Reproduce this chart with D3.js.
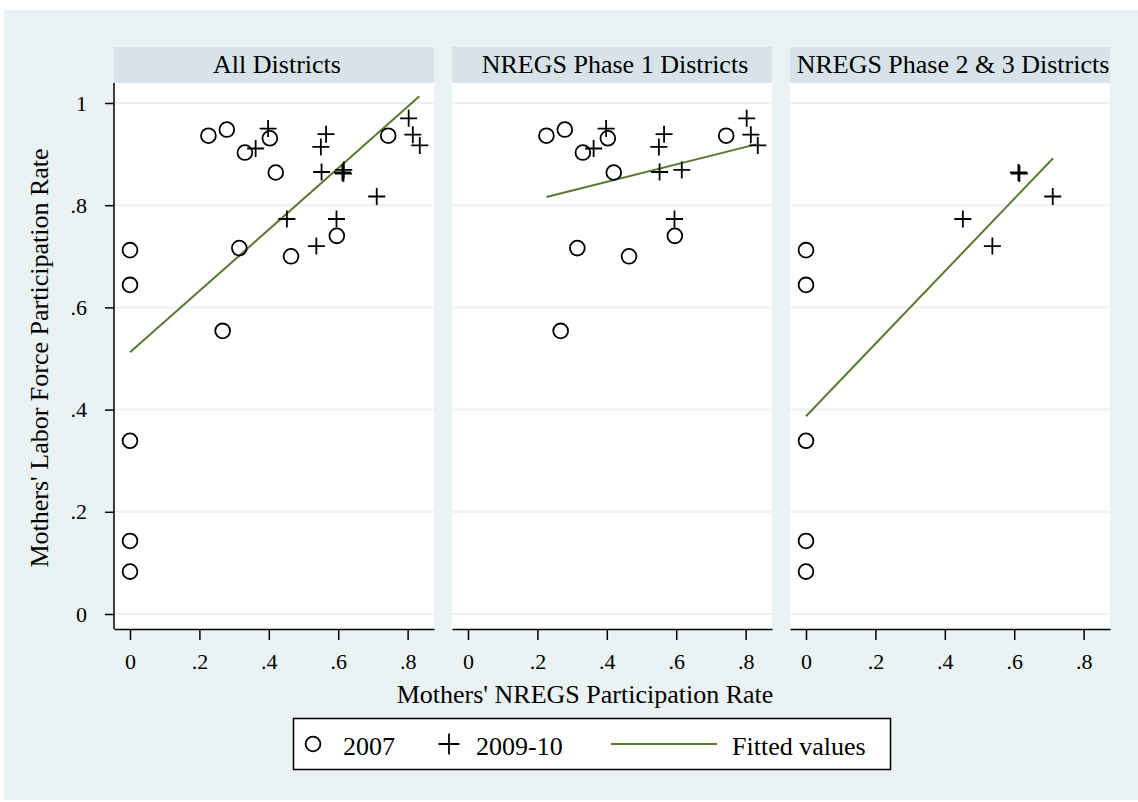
<!DOCTYPE html>
<html>
<head>
<meta charset="utf-8">
<script src="https://cdn.jsdelivr.net/npm/d3@7"></script>
<style>
  body { margin: 0; background: #fff; }
  svg text { font-family: "Liberation Serif", "Times New Roman", serif; fill: #000; }
</style>
</head>
<body>
<div id="chart"></div>
<script>
// panel titles
const panelTitles = ["All Districts", "NREGS Phase 1 Districts", "NREGS Phase 2 & 3 Districts"];

// Phase 1 districts
const phase1_2007_x = [0.226, 0.279, 0.331, 0.403, 0.420, 0.744, 0.315, 0.464, 0.596, 0.267];
const phase1_2007_y = [0.936, 0.948, 0.903, 0.931, 0.864, 0.936, 0.716, 0.700, 0.740, 0.554];
const phase1_2009_x = [0.398, 0.362, 0.565, 0.550, 0.552, 0.616, 0.803, 0.815, 0.835, 0.595];
const phase1_2009_y = [0.950, 0.911, 0.939, 0.914, 0.865, 0.869, 0.970, 0.938, 0.917, 0.773];

// Phase 2 & 3 districts
const phase23_2007_x = [0, 0, 0, 0, 0];
const phase23_2007_y = [0.712, 0.644, 0.339, 0.143, 0.083];
const phase23_2009_x = [0.612, 0.615, 0.711, 0.452, 0.537];
const phase23_2009_y = [0.864, 0.862, 0.817, 0.773, 0.720];

// fitted line end points, one per panel
const fit_x = [[0, 0.834], [0.226, 0.830], [0, 0.712]];
const fit_y = [[0.512, 1.013], [0.816, 0.919], [0.387, 0.892]];

// ticks
const xTicks = [0, 0.2, 0.4, 0.6, 0.8];
const xTickLabels = ["0", ".2", ".4", ".6", ".8"];
const yTicks = [0, 0.2, 0.4, 0.6, 0.8, 1];
const yTickLabels = ["0", ".2", ".4", ".6", ".8", "1"];

const legendLabels = ["2007", "2009-10", "Fitted values"];

const W = 1138, H = 802;
const fitColor = "#587a30";
const gridColor = "#eaf2f3";

function pts(xs, ys) { return xs.map((x, i) => ({ x: x, y: ys[i] })); }

const p1a = pts(phase1_2007_x, phase1_2007_y), p1b = pts(phase1_2009_x, phase1_2009_y);
const p2a = pts(phase23_2007_x, phase23_2007_y), p2b = pts(phase23_2009_x, phase23_2009_y);

const panels = [
    { circles: p1a.concat(p2a), pluses: p1b.concat(p2b) },
    { circles: p1a, pluses: p1b },
    { circles: p2a, pluses: p2b }
];

const svg = d3.select("#chart").append("svg")
    .attr("width", W).attr("height", H);

// graph region background
svg.append("rect")
    .attr("x", 4).attr("y", 10)
    .attr("width", W - 4).attr("height", H - 12)
    .attr("fill", "#eaf2f3");

const panelW = 320, panelLeft = [114, 452, 790];
const plotTop = 83, plotBottom = 629, stripTop = 47;

const y = d3.scaleLinear().domain([0, 1]).range([614, 103]);

const plusPath = s => `M${-s},0H${s}M0,${-s}V${s}`;

panels.forEach((p, i) => {
    const x0 = panelLeft[i];
    const x = d3.scaleLinear().domain([-0.0461, 0.876]).range([x0, x0 + panelW]);
    const g = svg.append("g");

    // strip
    g.append("rect")
        .attr("x", x0).attr("y", stripTop)
        .attr("width", panelW).attr("height", plotTop - stripTop)
        .attr("fill", "#d7e3e8");
    g.append("text")
        .attr("x", x0 + panelW / 2 + 3).attr("y", 73)
        .attr("text-anchor", "middle")
        .style("font-size", "26px")
        .text(panelTitles[i]);

    // plot area
    g.append("rect")
        .attr("x", x0).attr("y", plotTop)
        .attr("width", panelW).attr("height", plotBottom - plotTop)
        .attr("fill", "#fff");

    // grid lines
    g.selectAll(".grid").data(yTicks).enter().append("line")
        .attr("x1", x0).attr("x2", x0 + panelW)
        .attr("y1", d => y(d)).attr("y2", d => y(d))
        .attr("stroke", gridColor).attr("stroke-width", 2);

    // fitted line
    g.append("path")
        .datum(fit_x[i].map((v, j) => ({ x: v, y: fit_y[i][j] })))
        .attr("d", d3.line().x(d => x(d.x)).y(d => y(d.y)))
        .attr("fill", "none")
        .attr("stroke", fitColor)
        .attr("stroke-width", 2);

    // 2007 markers
    g.selectAll(".c").data(p.circles).enter().append("circle")
        .attr("cx", d => x(d.x)).attr("cy", d => y(d.y))
        .attr("r", 7.4)
        .attr("fill", "none").attr("stroke", "#000").attr("stroke-width", 1.8);

    // 2009-10 markers
    g.selectAll(".p").data(p.pluses).enter().append("path")
        .attr("transform", d => `translate(${x(d.x)},${y(d.y)})`)
        .attr("d", plusPath(8.5))
        .attr("fill", "none").attr("stroke", "#000").attr("stroke-width", 1.8);

    // x axis
    const xa = g.append("g")
        .attr("transform", `translate(0,${plotBottom})`)
        .call(d3.axisBottom(x).tickValues(xTicks)
            .tickFormat((d, k) => xTickLabels[k])
            .tickSize(11).tickPadding(13).tickSizeOuter(0));
    xa.select(".domain").attr("stroke", "#000").attr("stroke-width", 1.5);
    xa.selectAll(".tick line").attr("stroke", "#000").attr("stroke-width", 1.5);
    xa.selectAll(".tick text")
        .attr("font-family", null)
        .style("font-size", "22px");

    if (i === 0) {
        const ya = g.append("g")
            .attr("transform", `translate(${x0},0)`)
            .call(d3.axisLeft(y).tickValues(yTicks)
                .tickFormat((d, k) => yTickLabels[k])
                .tickSize(9).tickPadding(18).tickSizeOuter(0));
        ya.select(".domain").attr("d", `M0,${plotTop}V${plotBottom}`)
            .attr("stroke", "#000").attr("stroke-width", 1.5);
        ya.selectAll(".tick line").attr("stroke", "#000").attr("stroke-width", 1.5);
        ya.selectAll(".tick text")
            .attr("font-family", null)
            .style("font-size", "22px");
    }
});

// axis titles
svg.append("text")
    .attr("x", 585).attr("y", 703)
    .attr("text-anchor", "middle")
    .style("font-size", "26px")
    .text("Mothers' NREGS Participation Rate");

svg.append("text")
    .attr("transform", "translate(48,358) rotate(-90)")
    .attr("text-anchor", "middle")
    .style("font-size", "26px")
    .text("Mothers' Labor Force Participation Rate");

// legend
const lg = svg.append("g");
lg.append("rect")
    .attr("x", 293.5).attr("y", 718.5)
    .attr("width", 597).attr("height", 51)
    .attr("fill", "#fff").attr("stroke", "#000").attr("stroke-width", 1.5);

const legY = 744;
lg.append("circle")
    .attr("cx", 313).attr("cy", legY).attr("r", 7.4)
    .attr("fill", "none").attr("stroke", "#000").attr("stroke-width", 1.8);
lg.append("path")
    .attr("transform", `translate(449,${legY})`)
    .attr("d", plusPath(10.5))
    .attr("fill", "none").attr("stroke", "#000").attr("stroke-width", 1.8);
lg.append("line")
    .attr("x1", 611).attr("x2", 717)
    .attr("y1", legY).attr("y2", legY)
    .attr("stroke", fitColor).attr("stroke-width", 2.2);

const legX = [343, 476, 732];
lg.selectAll(".lt").data(legendLabels).enter().append("text")
    .attr("x", (d, k) => legX[k]).attr("y", 755)
    .style("font-size", "26px")
    .text(d => d);
</script>
</body>
</html>
